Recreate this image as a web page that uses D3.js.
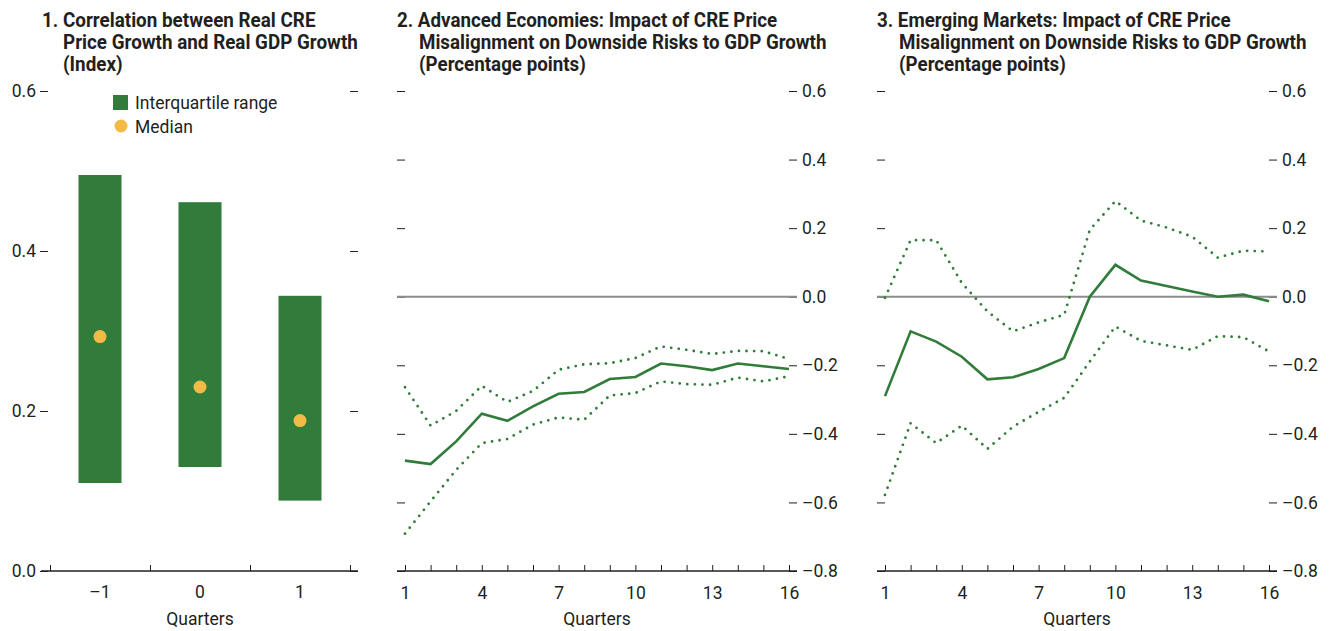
<!DOCTYPE html>
<html lang="en">
<head>
    <meta charset="UTF-8">
    <title>CRE Prices and GDP Growth</title>
    <style>
        body {
            margin: 0;
            background: #fff;
        }
        svg text {
            font-family: Roboto, "Noto Sans", sans-serif;
            fill: #231f20;
        }
        .title {
            font-size: 20px;
            font-weight: bold;
        }
        .tick text, .lbl {
            font-size: 17.5px;
        }
        .tick line {
            stroke: #231f20;
        }
    </style>
</head>
<body>
<div id="chart"></div>

<script src="https://d3js.org/d3.v7.min.js"></script>
<script>
    // panel 1 data
    const quarters1 = [-1, 0, 1];
    const quarterLabels1 = ["–1", "0", "1"];
    const iqrLow = [0.110, 0.130, 0.088];
    const iqrHigh = [0.495, 0.461, 0.344];
    const medians = [0.293, 0.230, 0.188];

    // panels 2 and 3 data
    const quarters = d3.range(1, 17);
    const quarterTickLabels = [1, 4, 7, 10, 13, 16];
    const aeMedian = [-0.478, -0.488, -0.422, -0.341, -0.362, -0.320, -0.283, -0.278, -0.240, -0.234, -0.195, -0.203, -0.214, -0.195, -0.203, -0.211];
    const aeUpper = [-0.264, -0.376, -0.333, -0.260, -0.307, -0.275, -0.213, -0.197, -0.194, -0.179, -0.145, -0.155, -0.167, -0.158, -0.159, -0.182];
    const aeLower = [-0.691, -0.597, -0.505, -0.427, -0.415, -0.373, -0.352, -0.359, -0.288, -0.281, -0.247, -0.255, -0.257, -0.236, -0.247, -0.232];
    const emMedian = [-0.290, -0.101, -0.131, -0.175, -0.241, -0.235, -0.211, -0.179, 0.000, 0.093, 0.047, 0.031, 0.015, 0.000, 0.006, -0.013];
    const emUpper = [-0.003, 0.165, 0.165, 0.040, -0.043, -0.101, -0.075, -0.053, 0.195, 0.279, 0.222, 0.202, 0.175, 0.114, 0.134, 0.132];
    const emLower = [-0.578, -0.369, -0.427, -0.376, -0.444, -0.379, -0.336, -0.295, -0.189, -0.087, -0.129, -0.142, -0.155, -0.115, -0.118, -0.160];

    const ticks1 = [0, 0.2, 0.4, 0.6];
    const ticks2 = [-0.8, -0.6, -0.4, -0.2, 0, 0.2, 0.4, 0.6];

    const green = "#317b3b";
    const yellow = "#f3bb45";
    const fmt = v => (v < -1e-9 ? "–" : "") + Math.abs(v).toFixed(1);

    const svg = d3.select("#chart").append("svg")
        .attr("width", 1333)
        .attr("height", 631);

    // squeeze a text horizontally (condensed look) so its widest line fits `width`
    function squeeze(textSel, x0, width) {
        const node = textSel.node();
        let w = 0;
        textSel.selectAll("tspan").each(function () { w = Math.max(w, this.getComputedTextLength()); });
        if (!w) w = node.getComputedTextLength();
        const s = Math.min(1, width / w);
        textSel.attr("transform", `translate(${x0},0) scale(${s},1) translate(${-x0},0)`);
    }

    function title(x0, x1, lines, widest) {
        const t = svg.append("text").attr("class", "title");
        lines.forEach((s, i) => {
            t.append("tspan").attr("x", i === 0 ? x0 : x1).attr("y", 27 + i * 22).text(s);
        });
        // widest line is the second one, starting at x1
        const w2 = t.selectAll("tspan").nodes()[1].getComputedTextLength();
        const s = widest / w2;
        t.attr("transform", `translate(${x0},0) scale(${s},1) translate(${-x0},0)`);
        // keep indent position of following lines
        t.selectAll("tspan").filter((d, i) => i > 0).attr("x", x0 + (x1 - x0) / s);
    }

    function xLabel(cx) {
        svg.append("text").attr("class", "lbl")
            .attr("x", cx).attr("y", 625)
            .attr("text-anchor", "middle")
            .text("Quarters");
    }

    // ---------- panel 1 ----------
    title(42, 63, ["1. Correlation between Real CRE", "Price Growth and Real GDP Growth", "(Index)"], 295);

    const y1 = d3.scaleLinear().domain([0, 0.6]).range([571, 91]);
    const x1 = d3.scaleBand().domain(quarters1).range([50, 350]).paddingInner(0.57).paddingOuter(0.285);

    svg.append("g")
        .attr("transform", "translate(40,0)")
        .call(d3.axisLeft(y1).tickValues(ticks1).tickFormat(fmt).tickSize(-8).tickPadding(4))
        .call(g => g.select(".domain").remove());
    svg.append("g")
        .attr("transform", "translate(358,0)")
        .call(d3.axisRight(y1).tickValues(ticks1).tickFormat("").tickSize(-8))
        .call(g => g.select(".domain").remove());

    svg.append("g").selectAll("rect")
        .data(quarters1)
        .join("rect")
        .attr("x", d => x1(d))
        .attr("width", x1.bandwidth())
        .attr("y", (d, i) => y1(iqrHigh[i]))
        .attr("height", (d, i) => y1(iqrLow[i]) - y1(iqrHigh[i]))
        .attr("fill", green);

    svg.append("g").selectAll("circle")
        .data(quarters1)
        .join("circle")
        .attr("cx", d => x1(d) + x1.bandwidth() / 2)
        .attr("cy", (d, i) => y1(medians[i]))
        .attr("r", 6.5)
        .attr("fill", yellow);

    // x axis panel 1: boundary ticks between categories
    const xb1 = d3.scaleLinear().domain([0, 3]).range([50, 350]);
    svg.append("line").attr("x1", 41).attr("x2", 358).attr("y1", 571).attr("y2", 571)
        .attr("stroke", "#231f20").attr("stroke-width", 1.3);
    svg.append("g")
        .attr("transform", "translate(0,571)")
        .call(d3.axisBottom(xb1).tickValues([0, 1, 2, 3]).tickFormat("").tickSize(-6))
        .call(g => g.select(".domain").remove());
    svg.append("g").selectAll("text")
        .data(quarters1)
        .join("text")
        .attr("class", "lbl")
        .attr("x", d => x1(d) + x1.bandwidth() / 2)
        .attr("y", 598)
        .attr("text-anchor", "middle")
        .text((d, i) => quarterLabels1[i]);
    xLabel(200);

    // legend
    svg.append("rect").attr("x", 113).attr("y", 95).attr("width", 15).attr("height", 15).attr("fill", green);
    const lg = svg.append("text").attr("class", "lbl").attr("x", 135).attr("y", 109).text("Interquartile range");
    squeeze(lg, 135, 146);
    svg.append("circle").attr("cx", 121).attr("cy", 126).attr("r", 6.5).attr("fill", yellow);
    const lm = svg.append("text").attr("class", "lbl").attr("x", 135).attr("y", 133).text("Median");
    squeeze(lm, 135, 58);

    // ---------- panels 2 and 3 ----------
    function linePanel(left, titleLines, median, upper, lower) {
        const x0 = left;           // left edge of the axis line
        const x = d3.scaleLinear().domain([1, 16]).range([left + 8, left + 392]);
        const y = d3.scaleLinear().domain([-0.8, 0.6]).range([571, 91]);
        const right = left + 400;

        title(left, left + 22, titleLines, 408);

        svg.append("g")
            .attr("transform", `translate(${x0},0)`)
            .call(d3.axisRight(y).tickValues(ticks2).tickFormat("").tickSize(8))
            .call(g => g.select(".domain").remove());
        svg.append("g")
            .attr("transform", `translate(${right},0)`)
            .call(d3.axisRight(y).tickValues(ticks2).tickFormat(fmt).tickSize(-8).tickPadding(5))
            .call(g => g.select(".domain").remove());

        // zero line
        svg.append("line")
            .attr("x1", x0).attr("x2", right)
            .attr("y1", y(0)).attr("y2", y(0))
            .attr("stroke", "#8c8c8c").attr("stroke-width", 2);

        // x axis
        svg.append("line").attr("x1", x0).attr("x2", right).attr("y1", 571).attr("y2", 571)
            .attr("stroke", "#231f20").attr("stroke-width", 1.3);
        svg.append("g")
            .attr("transform", "translate(0,571)")
            .call(d3.axisBottom(x).tickValues(quarters).tickSize(-6).tickPadding(12)
                .tickFormat(d => quarterTickLabels.includes(d) ? d : ""))
            .call(g => g.select(".domain").remove())
            .call(g => g.selectAll(".tick text").attr("y", 28).attr("dy", 0));
        xLabel(left + 200);

        const line = d3.line()
            .x((d, i) => x(quarters[i]))
            .y(d => y(d));

        svg.append("path").datum(upper)
            .attr("d", line)
            .attr("fill", "none").attr("stroke", green)
            .attr("stroke-width", 2.8).attr("stroke-linecap", "round")
            .attr("stroke-dasharray", "0,7.6");
        svg.append("path").datum(lower)
            .attr("d", line)
            .attr("fill", "none").attr("stroke", green)
            .attr("stroke-width", 2.8).attr("stroke-linecap", "round")
            .attr("stroke-dasharray", "0,7.6");
        svg.append("path").datum(median)
            .attr("d", line)
            .attr("fill", "none").attr("stroke", green)
            .attr("stroke-width", 2.6);
    }

    linePanel(397, ["2. Advanced Economies: Impact of CRE Price", "Misalignment on Downside Risks to GDP Growth", "(Percentage points)"],
        aeMedian, aeUpper, aeLower);
    linePanel(877, ["3. Emerging Markets: Impact of CRE Price", "Misalignment on Downside Risks to GDP Growth", "(Percentage points)"],
        emMedian, emUpper, emLower);
</script>
</body>
</html>
